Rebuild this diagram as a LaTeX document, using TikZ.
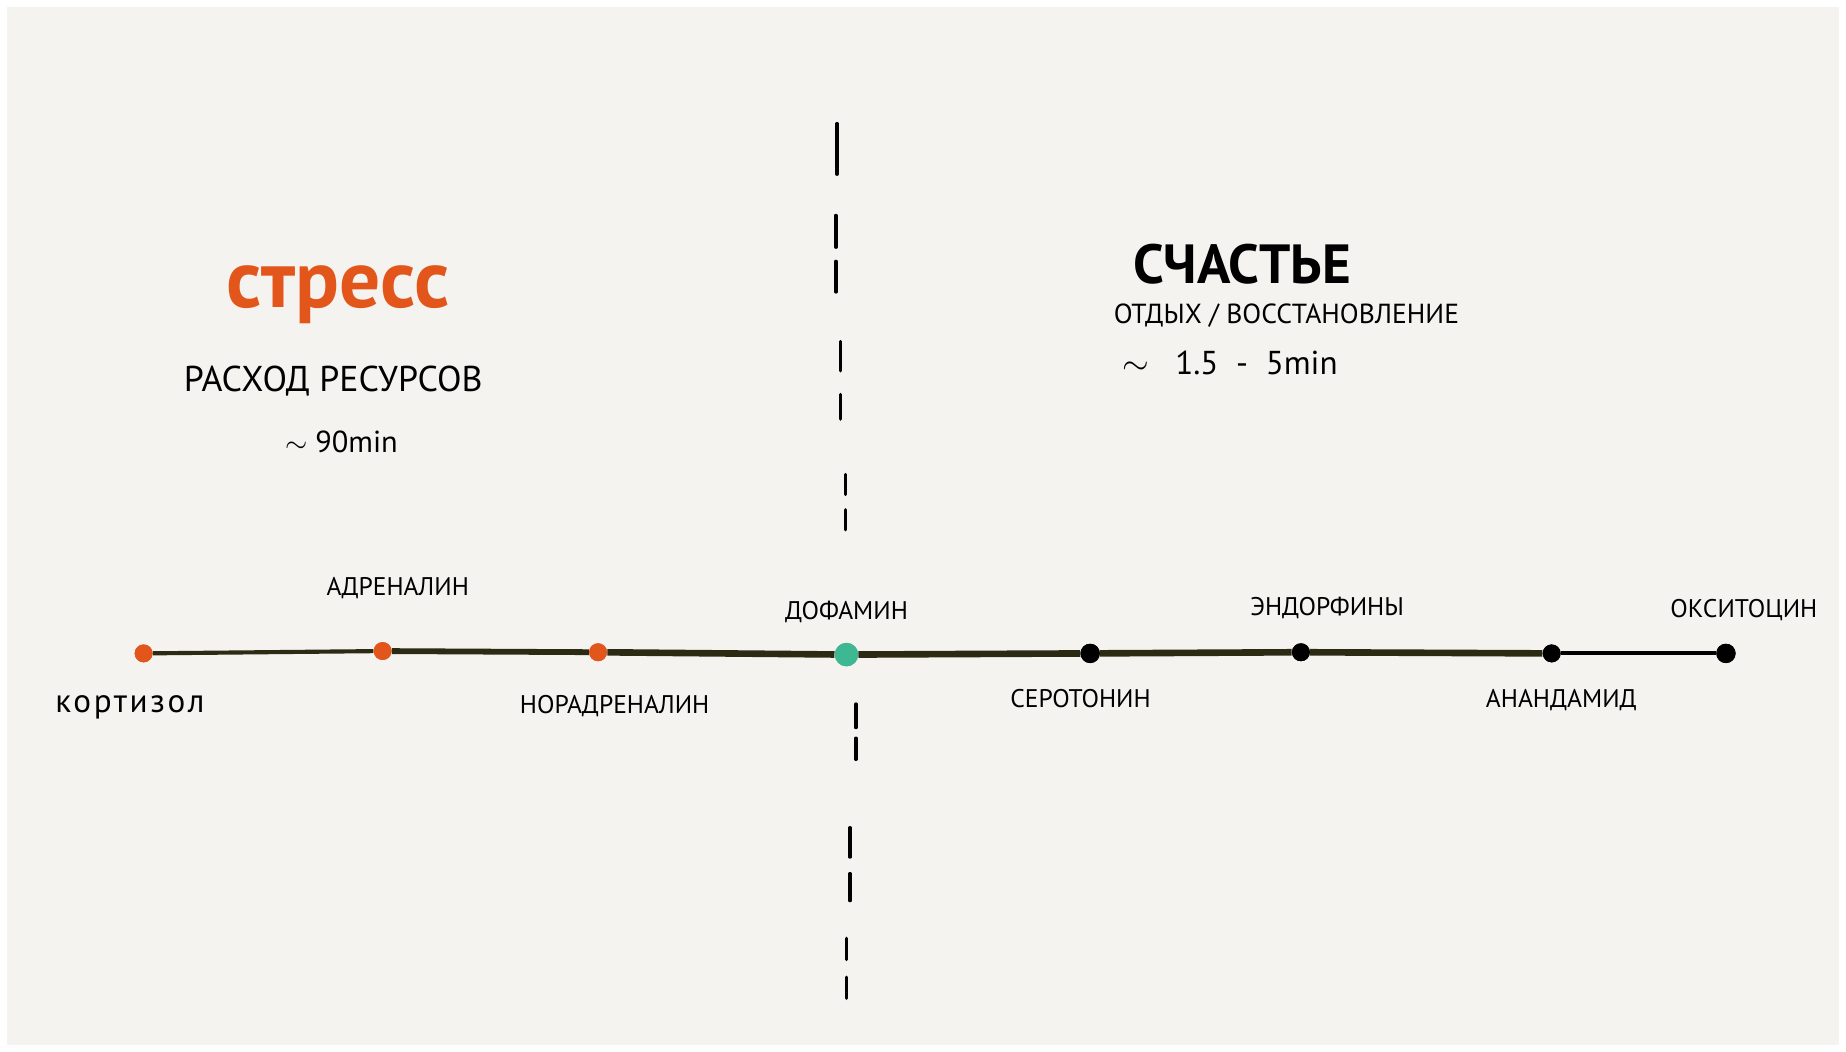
\documentclass[tikz,border=0pt]{standalone}
\usepackage{fontspec}
\setmainfont{PT Sans}
\newfontfamily\looselbl[LetterSpace=8]{PT Sans}
\usetikzlibrary{positioning}
\usetikzlibrary{calc}

\definecolor{paper}{HTML}{F4F3F0}
\definecolor{stressorange}{HTML}{E2561C}
\definecolor{dopateal}{HTML}{3DB893}
\definecolor{axisdark}{HTML}{2B2B14}

\tikzset{
  dot/.style={circle, fill=#1, inner sep=0pt, minimum size=13pt},
  hormone/.style={font=\fontsize{18.5}{20}\selectfont, text=black, inner sep=2pt},
  sepline/.style={black, line width=2.4pt, line cap=round},
}

\begin{document}
\begin{tikzpicture}[x=0.03cm, y=-0.03cm]

% paper
\fill[white] (0,0) rectangle (1568,893);
\fill[paper] (6,6) rectangle (1562,888);
\useasboundingbox (0,0) rectangle (1568,893);

% dashed divider
\foreach \x/\a/\b in {711/105/148, 710/183/210, 710/222/248, 714/290/315, 714/335/356,
                      718/403/420, 718/433/450, 727/598/618, 727/627/645,
                      722/703/728, 722/742/765, 719/797/815, 719/830/848}
  \draw[sepline] (\x,\a) -- (\x,\b);

% headings
\node[text=stressorange, font=\fontsize{59}{62}\bfseries\selectfont] (stress) at (287,250) {стресс};
\node[font=\fontsize{26}{29}\selectfont] (spend) at (283,324) {РАСХОД РЕСУРСОВ};
\node[font=\fontsize{22}{26}\selectfont] (ninety) at (290,375) {$\sim$ 90min};

\node[font=\fontsize{40}{44}\bfseries\selectfont] (happy) at (1055,224) {СЧАСТЬЕ};
\node[anchor=west, font=\fontsize{20}{23}\selectfont] (rest) at (942,268) {ОТДЫХ / ВОССТАНОВЛЕНИЕ};
\node[anchor=west, font=\fontsize{24}{28}\selectfont] (fast) at (949,308) {$\sim$\ \ \ 1.5\ \ -\ \ 5min};

% points on the axis
\node[dot=stressorange] (k) at (122,555) {};
\node[dot=stressorange] (a) at (325,553) {};
\node[dot=stressorange] (n) at (508,554) {};
\node[dot=dopateal, minimum size=17pt] (d) at (719,556) {};
\node[dot=black, minimum size=14pt] (s) at (926,555) {};
\node[dot=black] (e) at (1105,554) {};
\node[dot=black] (an) at (1318,555) {};
\node[dot=black, minimum size=14pt] (o) at (1466,555) {};

% axis
\draw[axisdark, line width=3pt] (k) -- (a);
\draw[axisdark, line width=4.2pt] (a) -- (n);
\draw[axisdark, line width=4.8pt] (n) -- (d) -- (s) -- (e) -- (an);
\draw[black, line width=3pt] (an) -- (o);
% redraw dots above the axis
\foreach \p/\c in {k/stressorange, a/stressorange, n/stressorange, e/black, an/black}
  \fill[\c] (\p) circle (6.5pt);
\fill[dopateal] (d) circle (8.5pt);
\fill[black] (s) circle (7pt);
\fill[black] (o) circle (7pt);

% labels
\node[hormone, below=22pt of k, xshift=-10pt, font=\looselbl\fontsize{24}{26}\selectfont] (lk) {кортизол};
\node[hormone, above=29pt of a, xshift=11pt] (la) {АДРЕНАЛИН};
\node[hormone, below=22pt of n, xshift=12pt] (ln) {НОРАДРЕНАЛИН};
\node[hormone, above=12pt of d] (ld) {ДОФАМИН};
\node[hormone, below=17pt of s, xshift=-7pt] (ls) {СЕРОТОНИН};
\node[hormone, above=15pt of e, xshift=19pt] (le) {ЭНДОРФИНЫ};
\node[hormone, below=17pt of an, xshift=7pt] (lan) {АНАНДАМИД};
\node[hormone, above=14pt of o, xshift=13pt] (lo) {ОКСИТОЦИН};

\end{tikzpicture}
\end{document}
